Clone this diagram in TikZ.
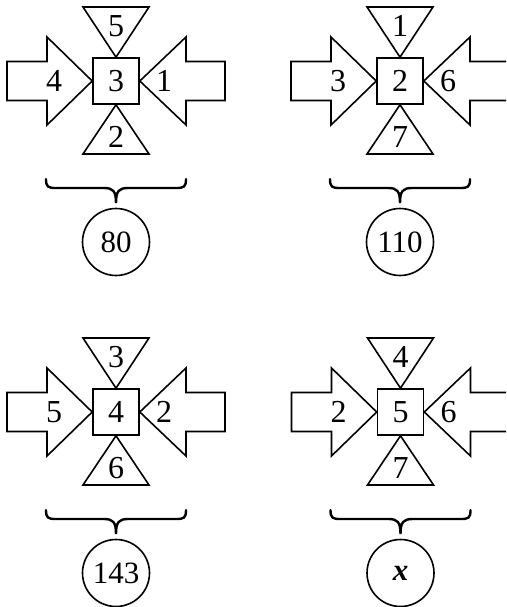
\documentclass[tikz,border=0pt]{standalone}
\usepackage{fontspec}
\setmainfont{Liberation Serif}
\tikzset{
  shp/.style={draw=black, line width=1.6pt, line join=miter},
  lbl/.style={inner sep=0pt, font=\fontsize{32}{38}\selectfont},
  sqbox/.style={draw=black, line width=1.6pt, minimum size=46pt, inner sep=0pt, font=\fontsize{32}{38}\selectfont},
  bracepath/.style={draw=black, line width=2.4pt, line cap=round},
  result/.style={draw=black, circle, line width=1.6pt, minimum size=67pt, inner sep=0pt, font=\fontsize{31}{37}\selectfont}
}
\newcommand{\crossfig}[8]{%
  \begin{scope}[shift={#2}]
    \node[sqbox] (#1c) at (0,0) {#3};
    \draw[shp] (-33,-74) -- (33,-74) -- (#1c.north) -- cycle;
    \node[lbl] (#1t) at (0,-55) {#4};
    \draw[shp] (-33,73) -- (33,73) -- (#1c.south) -- cycle;
    \node[lbl] (#1b) at (0,56) {#5};
    \draw[shp] (#1c.west) -- (-69,-44) -- (-69,-19.5) -- (-109,-19.5) -- (-109,19.5) -- (-69,19.5) -- (-69,44) -- cycle;
    \node[lbl] (#1l) at (-62,0) {#6};
    \draw[shp] (#1c.east) -- (70,-44) -- (70,-19.5) -- (109,-19.5) -- (109,19.5) -- (70,19.5) -- (70,44) -- cycle;
    \node[lbl] (#1r) at (48,0) {#7};
    \coordinate (#1bl) at (-70,98);
    \coordinate (#1br) at (70,98);
    \coordinate (#1tip) at (0,122);
    \draw[bracepath] (#1bl) .. controls (-70,106) and (-68,107) .. (-60,107) -- (-12,107) .. controls (-3,107) and (0,110) .. (#1tip) .. controls (0,110) and (3,107) .. (12,107) -- (60,107) .. controls (68,107) and (70,106) .. (#1br);
    \node[result] (#1o) at (0,161) {#8};
  \end{scope}%
}
\begin{document}
\begin{tikzpicture}[x=1pt,y=-1pt]
  \useasboundingbox (0,0) rectangle (506,607);
  \clip (0,0) rectangle (506,607);
  \crossfig{a}{(116,81)}{3}{5}{2}{4}{1}{80}
  \crossfig{b}{(400,81)}{2}{1}{7}{3}{6}{110}
  \crossfig{c}{(116,412)}{4}{3}{6}{5}{2}{143}
  \crossfig{d}{(400.5,412)}{5}{4}{7}{2}{6}{\textbf{\textit{x}}}
\end{tikzpicture}
\end{document}
